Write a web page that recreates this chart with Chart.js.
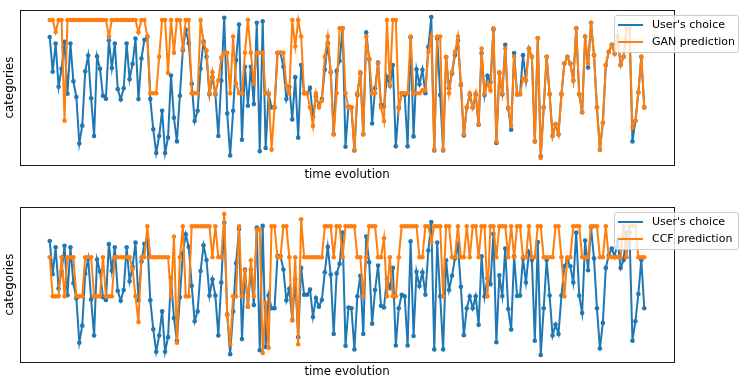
<!DOCTYPE html>
<html><head><meta charset="utf-8">
<script src="https://cdn.jsdelivr.net/npm/chart.js@4.4.0/dist/chart.umd.min.js"></script>
<style>
html,body{margin:0;padding:0;background:#fff;}
#wrap{position:relative;width:748px;height:381px;overflow:hidden;font-family:"DejaVu Sans",sans-serif;}
canvas{position:absolute;left:0;}
#c1{top:0;}
#c2{top:190px;}
.legend{position:absolute;left:614px;width:125px;height:38px;background:rgba(255,255,255,0.8);border:1px solid #cccccc;border-radius:3px;box-sizing:border-box;font-size:11px;color:#000;}
.sw{position:absolute;left:3px;width:25px;height:2px;}
.lab{position:absolute;left:37px;height:14px;line-height:14px;white-space:nowrap;}
</style></head>
<body>
<div id="wrap">
<canvas id="c1" width="748" height="190"></canvas>
<canvas id="c2" width="748" height="191"></canvas>
<div class="legend" style="top:15px;">
  <div class="sw" style="top:8px;background:#1f77b4;"></div><div class="lab" style="top:2px;">User's choice</div>
  <div class="sw" style="top:25px;background:#ff7f0e;"></div><div class="lab" style="top:19px;">GAN prediction</div>
</div>
<div class="legend" style="top:212px;">
  <div class="sw" style="top:8px;background:#1f77b4;"></div><div class="lab" style="top:2px;">User's choice</div>
  <div class="sw" style="top:25px;background:#ff7f0e;"></div><div class="lab" style="top:19px;">CCF prediction</div>
</div>
</div>
<script>
const userChoice = [
29.4, 21.0, 27.8, 17.4, 21.7, 28.2, 15.7, 27.8, 18.7, 14.9,
3.7, 8.0, 21.1, 24.9, 14.6, 5.5, 24.7, 21.7, 15.2, 14.5,
28.6, 21.9, 27.8, 16.8, 14.3, 17.0, 27.8, 19.2, 22.9, 29.0,
14.4, 24.2, 28.7, 29.5, 14.4, 7.1, 1.4, 5.5, 11.6, 1.4,
5.1, 20.1, 9.9, 4.2, 15.2, 26.2, 31.1, 27.9, 18.1, 9.1,
11.6, 21.8, 28.3, 24.6, 15.6, 19.7, 15.6, 5.5, 18.9, 34.0,
10.9, 0.8, 11.6, 23.8, 32.4, 4.6, 22.2, 12.8, 22.2, 13.2,
32.8, 1.8, 33.2, 2.6, 15.6, 12.4, 12.4, 25.6, 25.6, 22.2,
14.4, 17.3, 9.5, 19.7, 5.1, 22.6, 15.8, 15.8, 17.1, 10.2,
15.0, 12.8, 14.5, 21.5, 27.9, 20.9, 5.9, 21.2, 23.6, 31.5,
2.9, 12.6, 12.4, 2.0, 15.4, 20.6, 5.9, 30.5, 24.0, 8.5,
17.0, 23.2, 13.0, 12.6, 19.8, 17.6, 22.6, 3.0, 12.4, 15.8,
15.4, 3.0, 29.3, 5.4, 21.6, 18.0, 21.5, 15.8, 27.0, 34.2,
2.0, 29.0, 15.4, 2.0, 24.5, 17.0, 20.6, 25.0, 28.5, 17.8,
5.6, 12.4, 15.4, 12.4, 15.4, 8.2, 25.5, 15.4, 20.0, 18.5,
31.2, 3.8, 20.7, 15.5, 27.5, 12.2, 7.0, 25.5, 15.5, 15.6,
25.0, 18.9, 26.6, 24.6, 4.2, 29.1, 0.6, 12.4, 24.6, 15.6,
5.5, 8.3, 5.9, 15.6, 23.0, 24.6, 23.0, 18.9, 31.5, 15.6,
11.2, 29.5, 22.0, 32.8, 25.0, 12.4, 2.2, 8.7, 22.6, 25.8,
27.5, 25.4, 29.5, 22.6, 24.6, 31.5, 31.5, 4.2, 9.1, 16.0,
24.6, 12.4
];
const ganPrediction = [
33.5, 33.5, 30.6, 33.5, 33.5, 9.2, 33.5, 33.5, 33.5, 33.5,
33.5, 33.5, 33.5, 33.5, 33.5, 33.5, 33.5, 33.5, 33.5, 33.5,
29.5, 33.5, 33.5, 33.5, 33.5, 33.5, 33.5, 33.5, 33.5, 33.5,
30.5, 33.5, 33.5, 29.5, 15.8, 15.8, 15.8, 24.6, 33.5, 33.5,
20.7, 33.5, 25.6, 33.5, 33.5, 26.6, 33.5, 33.5, 15.8, 15.8,
15.8, 33.5, 27.9, 26.2, 15.8, 20.9, 15.8, 18.9, 24.4, 25.6,
25.6, 15.8, 29.5, 18.1, 15.8, 15.8, 25.6, 33.5, 25.6, 18.1,
25.6, 25.6, 25.6, 15.8, 15.8, 2.2, 12.4, 25.6, 25.6, 25.6,
17.7, 15.8, 33.5, 27.1, 33.5, 29.5, 15.8, 15.8, 12.4, 7.9,
15.8, 12.4, 14.0, 24.6, 29.5, 20.9, 5.9, 15.8, 31.5, 31.5,
15.8, 12.4, 12.4, 2.2, 15.8, 20.9, 5.9, 29.5, 24.2, 15.8,
15.8, 23.0, 12.4, 9.1, 33.5, 17.7, 33.5, 33.5, 12.0, 15.8,
15.8, 15.8, 29.5, 15.8, 15.8, 15.8, 16.5, 16.5, 25.8, 29.5,
2.2, 29.5, 29.5, 2.2, 24.6, 15.8, 20.9, 25.8, 29.5, 18.1,
5.9, 12.4, 15.8, 12.4, 15.8, 8.3, 26.6, 15.8, 18.1, 16.5,
31.5, 4.2, 20.9, 15.8, 26.6, 12.4, 7.9, 24.6, 15.6, 15.6,
19.3, 18.9, 26.6, 24.6, 4.2, 29.1, 0.2, 12.4, 24.6, 15.6,
5.5, 8.3, 5.9, 15.6, 23.0, 24.6, 23.0, 18.9, 31.5, 15.6,
11.2, 29.5, 23.0, 32.8, 25.0, 12.4, 2.2, 8.7, 22.6, 25.8,
27.5, 25.4, 29.5, 22.6, 24.6, 31.5, 31.5, 7.5, 9.1, 16.0,
24.6, 12.4
];
const ccfPrediction = [
25.3, 15.4, 15.4, 15.4, 25.3, 15.4, 25.3, 25.3, 25.3, 15.4,
15.4, 15.4, 25.3, 25.3, 25.3, 15.4, 15.4, 15.4, 25.3, 15.4,
15.4, 15.4, 25.3, 25.3, 25.3, 25.3, 25.3, 25.3, 22.3, 15.4,
8.9, 25.3, 25.3, 33.1, 25.3, 25.3, 25.3, 25.3, 25.3, 25.3,
25.3, 15.4, 30.5, 3.7, 25.3, 33.1, 15.4, 15.4, 33.1, 33.1,
33.1, 33.1, 33.1, 33.1, 33.1, 25.3, 33.1, 25.3, 25.3, 36.2,
10.6, 3.3, 15.4, 15.4, 33.1, 15.4, 21.9, 12.8, 24.5, 15.4,
32.3, 32.3, 1.1, 13.7, 2.4, 33.1, 33.1, 25.3, 25.3, 33.1,
33.1, 25.3, 9.3, 25.3, 3.3, 34.9, 25.3, 25.3, 25.3, 25.3,
25.3, 25.3, 25.3, 33.1, 33.1, 33.1, 25.3, 33.1, 33.1, 25.3,
33.1, 33.1, 33.1, 33.1, 25.3, 25.3, 15.4, 25.3, 33.1, 33.1,
33.1, 25.3, 25.3, 30.1, 15.4, 25.3, 15.4, 15.4, 25.3, 33.1,
33.1, 33.1, 33.1, 33.1, 33.1, 25.3, 25.3, 33.1, 33.1, 29.2,
33.1, 33.1, 33.1, 15.4, 33.1, 33.1, 25.3, 25.3, 33.1, 25.3,
25.3, 33.1, 25.3, 33.1, 33.1, 25.3, 33.1, 33.1, 15.4, 33.1,
33.1, 25.3, 33.1, 33.1, 33.1, 25.3, 33.1, 25.3, 33.1, 33.1,
25.3, 25.3, 33.1, 25.3, 25.3, 33.1, 33.1, 25.3, 25.3, 25.3,
25.3, 33.1, 33.1, 25.3, 15.4, 25.3, 25.3, 33.1, 33.1, 33.1,
25.3, 25.3, 25.3, 33.1, 33.1, 33.1, 25.3, 25.3, 33.1, 25.3,
25.3, 25.3, 25.3, 25.3, 33.1, 25.3, 33.1, 33.1, 33.1, 25.3,
25.3, 25.3
];
const timeSteps = userChoice.map((_, i) => i);

const frame = {
  id: 'frame',
  afterDraw(chart) {
    const {ctx, chartArea: a} = chart;
    ctx.save();
    ctx.strokeStyle = '#1a1a1a';
    ctx.lineWidth = 1;
    ctx.strokeRect(Math.round(a.left) + 0.5, Math.round(a.top) + 0.5,
                   Math.round(a.right - a.left), Math.round(a.bottom - a.top));
    ctx.restore();
  }
};

function series(values, label, color, order) {
  return {
    label: label,
    data: values.map((v, i) => ({x: timeSteps[i], y: v})),
    borderColor: color, backgroundColor: color,
    borderWidth: 2, pointRadius: 2.3, pointBorderWidth: 0, pointHoverRadius: 0,
    tension: 0, order: order
  };
}

function makeChart(id, pred, predLabel, pad) {
  const all = userChoice.concat(pred);
  const lo = Math.min(...all), hi = Math.max(...all), r = hi - lo;
  const n = timeSteps.length - 1;
  const titleFont = {family: 'DejaVu Sans', size: 11.8};
  return new Chart(document.getElementById(id), {
    type: 'line',
    data: {datasets: [
      series(userChoice, "User's choice", '#1f77b4', 2),
      series(pred, predLabel, '#ff7f0e', 1)
    ]},
    options: {
      responsive: false, animation: false, devicePixelRatio: 1, events: [],
      layout: {padding: {left: 0, right: 74, top: pad.top, bottom: 0}},
      plugins: {legend: {display: false}, tooltip: {enabled: false}},
      scales: {
        x: {type: 'linear', min: -0.05 * n, max: 1.05 * n,
            ticks: {display: false}, grid: {display: false, drawTicks: false}, border: {display: false},
            title: {display: true, text: 'time evolution', color: '#000', font: titleFont,
                    padding: {top: 2.92, bottom: pad.xb}}},
        y: {type: 'linear', min: lo - 0.05 * r, max: hi + 0.05 * r,
            ticks: {display: false}, grid: {display: false, drawTicks: false}, border: {display: false},
            title: {display: true, text: 'categories', color: '#000', font: titleFont,
                    padding: {top: 2.92, bottom: 2.92}}}
      }
    },
    plugins: [frame]
  });
}

makeChart('c1', ganPrediction, 'GAN prediction', {top: 10, xb: 7.92});
makeChart('c2', ccfPrediction, 'CCF prediction', {top: 17, xb: 1.92});
</script>
</body></html>
